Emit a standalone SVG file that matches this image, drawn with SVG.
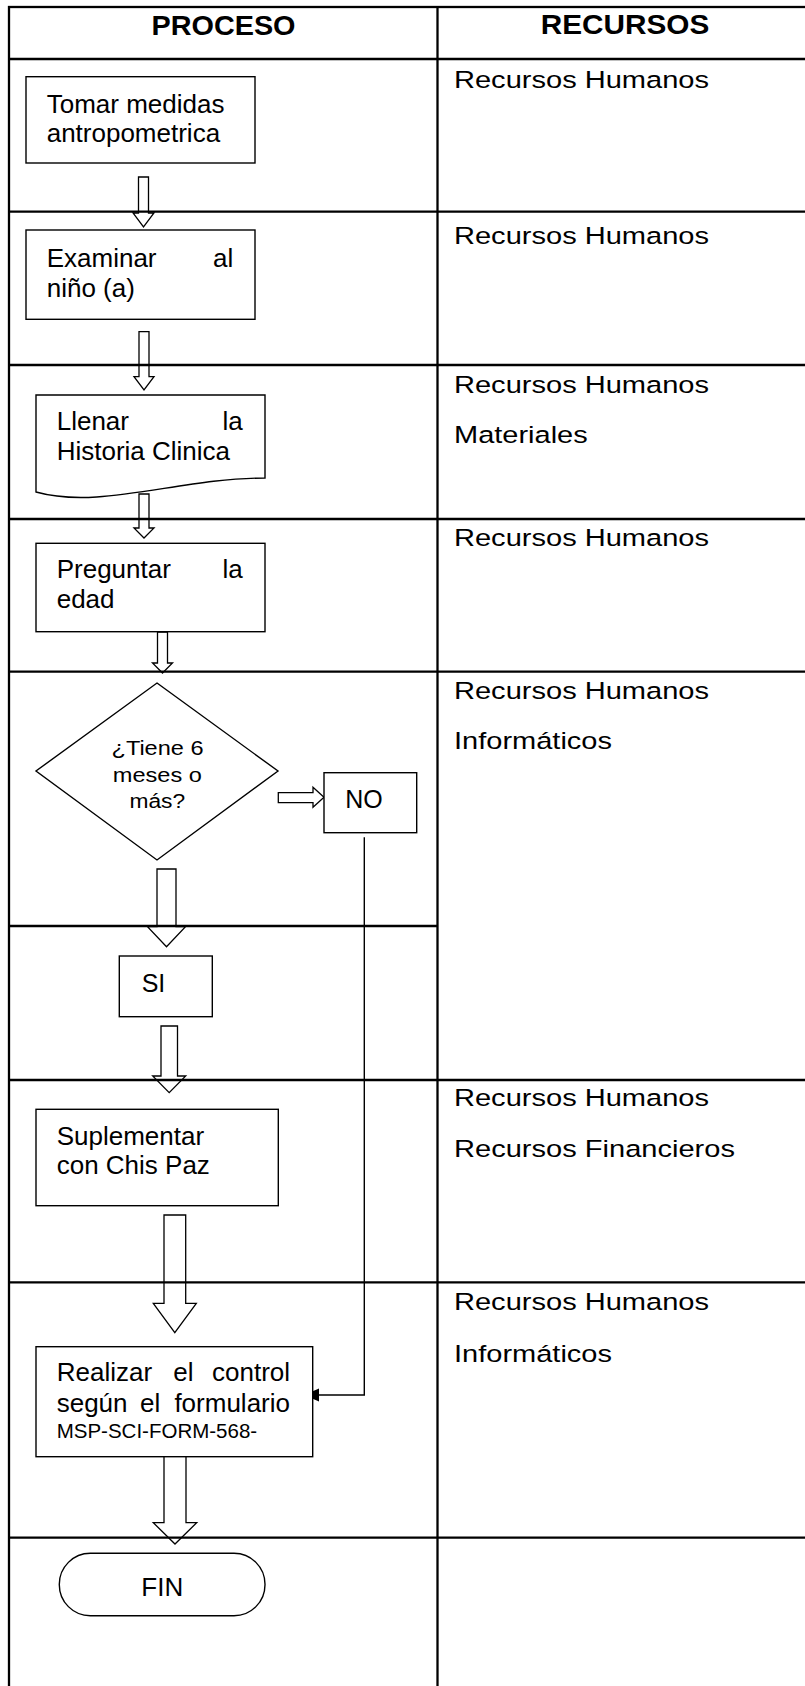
<svg xmlns="http://www.w3.org/2000/svg" width="805" height="1686" viewBox="0 0 805 1686">
<defs>
<style>
text{font-family:"Liberation Sans",Arial,Helvetica,sans-serif;fill:#000}
.t{font-size:26px}
.h{font-size:28.5px;font-weight:bold;text-anchor:middle}
.r{font-size:24.5px}
.d{font-size:20px;text-anchor:middle}
.s{font-size:20.5px}
.shape{fill:#fff;stroke:#000;stroke-width:1.4}
.blk{fill:#fff;stroke:#000;stroke-width:1.3;stroke-linejoin:miter}
.grid{fill:none;stroke:#000;stroke-width:2.3}
.conn{fill:none;stroke:#000;stroke-width:1.4}
</style>
<marker id="ah" markerUnits="userSpaceOnUse" markerWidth="16" markerHeight="14" refX="15" refY="6.5" orient="auto">
<path d="M0,0 L15,6.5 L0,13 Z" fill="#000"/>
</marker>
</defs>
<rect x="0" y="0" width="805" height="1686" fill="#fff"/>

<g id="connectors">
<polygon class="blk" points="138.5,177 148.5,177 148.5,213 154,213 143.5,227 133,213 138.5,213"/>
<polygon class="blk" points="139,331.7 149,331.7 149,376.7 154,376.7 144,390 134,376.7 139,376.7"/>
<polygon class="blk" points="139,494 149,494 149,528 154,528 144,538 134,528 139,528"/>
<polygon class="blk" points="157.5,632 167.5,632 167.5,663 172.5,663 162.5,673 152.5,663 157.5,663"/>
<polygon class="blk" points="157,869 176,869 176,926.7 185.5,926.7 166.5,946.7 147.5,926.7 157,926.7"/>
<polygon class="blk" points="161,1026 177.5,1026 177.5,1076 185.7,1076 169.2,1092.7 152.7,1076 161,1076"/>
<polygon class="blk" points="164,1215 185.7,1215 185.7,1303.3 196.3,1303.3 174.8,1332.7 153.3,1303.3 164,1303.3"/>
<polygon class="blk" points="164,1454 186,1454 186,1522.7 196.7,1522.7 175,1544 153.3,1522.7 164,1522.7"/>
<polygon class="blk" points="278.3,792.7 313,792.7 313,787.3 324,797.3 313,807.3 313,802.7 278.3,802.7"/>
<path class="conn" d="M364.3,837.3 V1395 H304" marker-end="url(#ah)"/>
</g>

<g id="table">
<rect class="grid" x="9" y="7" width="810" height="1700"/>
<line class="grid" x1="437.5" y1="7" x2="437.5" y2="1690"/>
<line class="grid" x1="9" y1="59" x2="810" y2="59"/>
<line class="grid" x1="9" y1="211.7" x2="810" y2="211.7"/>
<line class="grid" x1="9" y1="365" x2="810" y2="365"/>
<line class="grid" x1="9" y1="519" x2="810" y2="519"/>
<line class="grid" x1="9" y1="671.7" x2="810" y2="671.7"/>
<line class="grid" x1="9" y1="926" x2="437.5" y2="926"/>
<line class="grid" x1="9" y1="1080" x2="810" y2="1080"/>
<line class="grid" x1="9" y1="1282.3" x2="810" y2="1282.3"/>
<line class="grid" x1="9" y1="1537.7" x2="810" y2="1537.7"/>
<text class="h" x="223.5" y="35" textLength="144" lengthAdjust="spacingAndGlyphs">PROCESO</text>
<text class="h" x="625" y="34" textLength="168.6" lengthAdjust="spacingAndGlyphs">RECURSOS</text>
</g>

<g id="resources">
<text class="r" x="454" y="88.3" textLength="255" lengthAdjust="spacingAndGlyphs">Recursos Humanos</text>
<text class="r" x="454" y="244" textLength="255" lengthAdjust="spacingAndGlyphs">Recursos Humanos</text>
<text class="r" x="454" y="393.3" textLength="255" lengthAdjust="spacingAndGlyphs">Recursos Humanos</text>
<text class="r" x="454" y="443.3" textLength="133.7" lengthAdjust="spacingAndGlyphs">Materiales</text>
<text class="r" x="454" y="546" textLength="255" lengthAdjust="spacingAndGlyphs">Recursos Humanos</text>
<text class="r" x="454" y="699.3" textLength="255" lengthAdjust="spacingAndGlyphs">Recursos Humanos</text>
<text class="r" x="454" y="749.3" textLength="158" lengthAdjust="spacingAndGlyphs">Informáticos</text>
<text class="r" x="454" y="1106" textLength="255" lengthAdjust="spacingAndGlyphs">Recursos Humanos</text>
<text class="r" x="454" y="1156.7" textLength="281" lengthAdjust="spacingAndGlyphs">Recursos Financieros</text>
<text class="r" x="454" y="1310" textLength="255" lengthAdjust="spacingAndGlyphs">Recursos Humanos</text>
<text class="r" x="454" y="1361.7" textLength="158" lengthAdjust="spacingAndGlyphs">Informáticos</text>
</g>

<g id="n1">
<rect class="shape" x="26" y="76.7" width="229" height="86.3"/>
<text class="t" x="46.7" y="112.7">Tomar medidas</text>
<text class="t" x="46.7" y="141.7">antropometrica</text>
</g>
<g id="n2">
<rect class="shape" x="26" y="230" width="229" height="89.3"/>
<text class="t" x="46.7" y="266.5">Examinar</text>
<text class="t" x="233.3" y="266.5" text-anchor="end">al</text>
<text class="t" x="46.7" y="296.5">niño (a)</text>
</g>
<g id="n3">
<path class="shape" d="M36,395 H265 V478 C180,478 100,510 36,492 Z"/>
<text class="t" x="56.7" y="430">Llenar</text>
<text class="t" x="242.7" y="430" text-anchor="end">la</text>
<text class="t" x="56.7" y="460">Historia Clinica</text>
</g>
<g id="n4">
<rect class="shape" x="36" y="543.3" width="229" height="88.4"/>
<text class="t" x="56.7" y="578">Preguntar</text>
<text class="t" x="242.7" y="578" text-anchor="end">la</text>
<text class="t" x="56.7" y="608">edad</text>
</g>
<g id="n5">
<polygon class="shape" points="157,683 278,771 157,860 36,771"/>
<text class="d" x="157.5" y="755" textLength="92" lengthAdjust="spacingAndGlyphs">¿Tiene 6</text>
<text class="d" x="157.3" y="781.7" textLength="89" lengthAdjust="spacingAndGlyphs">meses o</text>
<text class="d" x="157.3" y="808.3" textLength="55.7" lengthAdjust="spacingAndGlyphs">más?</text>
</g>
<g id="n6">
<rect class="shape" x="324" y="772.7" width="92.7" height="60"/>
<text class="t" x="364" y="807.7" text-anchor="middle" style="font-size:25px">NO</text>
</g>
<g id="n7">
<rect class="shape" x="119.3" y="956" width="93" height="60.7"/>
<text class="t" x="141.7" y="991.7" style="font-size:25px">SI</text>
</g>
<g id="n8">
<rect class="shape" x="36" y="1109.3" width="242.3" height="96.4"/>
<text class="t" x="56.7" y="1145">Suplementar</text>
<text class="t" x="56.7" y="1174.3">con Chis Paz</text>
</g>
<g id="n9">
<rect class="shape" x="36" y="1346.7" width="276.7" height="110"/>
<text class="t" y="1381"><tspan x="56.7">Realizar</tspan><tspan x="173.3">el</tspan><tspan x="212">control</tspan></text>
<text class="t" y="1412"><tspan x="56.7">según</tspan><tspan x="140">el</tspan><tspan x="174.4">formulario</tspan></text>
<text class="s" x="56.7" y="1437.7">MSP-SCI-FORM-568-</text>
</g>
<g id="n10">
<rect class="shape" x="59.3" y="1553.3" width="205.7" height="62.4" rx="31" ry="31"/>
<text class="t" x="162.3" y="1595.7" text-anchor="middle">FIN</text>
</g>
</svg>
